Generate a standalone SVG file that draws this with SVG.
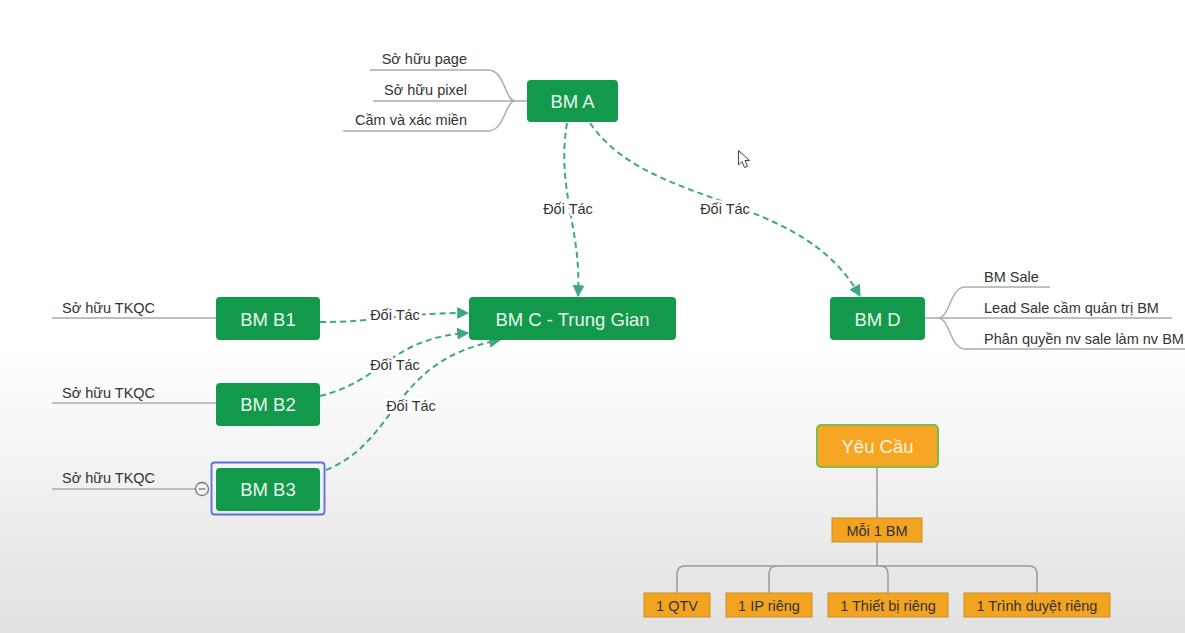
<svg xmlns="http://www.w3.org/2000/svg" width="1185" height="633" viewBox="0 0 1185 633">
<defs>
<linearGradient id="bg" x1="0" y1="0" x2="0" y2="1">
<stop offset="0" stop-color="#ffffff"/>
<stop offset="0.55" stop-color="#ffffff"/>
<stop offset="1" stop-color="#e1e1e1"/>
</linearGradient>
<marker id="arr" viewBox="0 0 10 10" refX="9" refY="5" markerWidth="6" markerHeight="6" orient="auto" markerUnits="strokeWidth">
<path d="M0,0 L10,5 L0,10 Z" fill="#3fa882"/>
</marker>
<style>
.g rect{fill:#12994c;}
.gt{font-family:"Liberation Sans",Arial,sans-serif;font-size:18.5px;fill:#e8f6ec;text-anchor:middle;}
.st{font-family:"Liberation Sans",Arial,sans-serif;font-size:14.5px;fill:#333333;}
.br{fill:none;stroke:#aaaaaa;stroke-width:1.5;}
.dash{fill:none;stroke:#3fa882;stroke-width:2;stroke-dasharray:6 4;marker-end:url(#arr);}
.lbl{font-family:"Liberation Sans",Arial,sans-serif;font-size:14.5px;fill:#333333;text-anchor:middle;paint-order:stroke;stroke:#ffffff;stroke-width:5px;stroke-linejoin:round;}
.ob{fill:#f2a31f;stroke:#c98f2c;stroke-width:1;}
.ot{font-family:"Liberation Sans",Arial,sans-serif;font-size:14.5px;fill:#333333;text-anchor:middle;}
.tree{fill:none;stroke:#9a9a9a;stroke-width:1.5;}
</style>
</defs>
<rect x="0" y="0" width="1185" height="633" fill="url(#bg)"/>

<g id="connectors">
<path class="dash" d="M567,123 C556,190 582,230 578,296"/>
<path class="dash" d="M590,123 C650,210 800,190 860,296"/>
<path class="dash" d="M320,322 C380,322 400,313 468,313"/>
<path class="dash" d="M320,396 C385,380 390,338 468,333"/>
<path class="dash" d="M326,470 C400,440 390,360 500,340"/>
<text class="lbl" x="568" y="214">Đối Tác</text>
<text class="lbl" x="725" y="214">Đối Tác</text>
<text class="lbl" x="395" y="320">Đối Tác</text>
<text class="lbl" x="395" y="370">Đối Tác</text>
<text class="lbl" x="411" y="411">Đối Tác</text>
</g>

<g id="bmA" class="g">
<path class="br" d="M527,101 H515 C505,101 505,70 488,70 H370"/>
<path class="br" d="M515,101 H373"/>
<path class="br" d="M515,101 C505,101 505,131 488,131 H343"/>
<text class="st" x="467" y="64" text-anchor="end">Sở hữu page</text>
<text class="st" x="467" y="95" text-anchor="end">Sở hữu pixel</text>
<text class="st" x="467" y="125" text-anchor="end">Cầm và xác miền</text>
<rect x="527" y="80" width="91" height="42" rx="4"/>
<text class="gt" x="572.5" y="107.5">BM A</text>
</g>

<g id="bmC" class="g">
<rect x="469" y="297" width="207" height="43" rx="4"/>
<text class="gt" x="572.5" y="326">BM C - Trung Gian</text>
</g>

<g id="bmD" class="g">
<path class="br" d="M925,318 H938 C950,318 950,287 965,287 H1050"/>
<path class="br" d="M938,318 H1172"/>
<path class="br" d="M938,318 C950,318 950,349 965,349 H1185"/>
<text class="st" x="984" y="282">BM Sale</text>
<text class="st" x="984" y="313">Lead Sale cầm quản trị BM</text>
<text class="st" x="984" y="344">Phân quyền nv sale làm nv BM</text>
<rect x="830" y="297" width="95" height="43" rx="4"/>
<text class="gt" x="877.5" y="326">BM D</text>
</g>

<g id="bmB1" class="g">
<path class="br" d="M52,318 H216"/>
<text class="st" x="62" y="313">Sở hữu TKQC</text>
<rect x="216" y="297" width="104" height="43" rx="4"/>
<text class="gt" x="268" y="326">BM B1</text>
</g>

<g id="bmB2" class="g">
<path class="br" d="M52,403 H216"/>
<text class="st" x="62" y="398">Sở hữu TKQC</text>
<rect x="216" y="383" width="104" height="43" rx="4"/>
<text class="gt" x="268" y="411">BM B2</text>
</g>

<g id="bmB3" class="g">
<path class="br" d="M52,489 H195"/>
<text class="st" x="62" y="483">Sở hữu TKQC</text>
<circle cx="202" cy="489" r="6.5" fill="#f4f4f4" stroke="#777" stroke-width="1.3"/>
<path d="M198.5,489 H205.5" stroke="#777" stroke-width="1.3"/>
<rect x="211.5" y="462.5" width="113" height="52" rx="3" style="fill:none;stroke:#5b6fe0;stroke-width:1.8"/>
<rect x="216" y="468" width="104" height="43" rx="4"/>
<text class="gt" x="268" y="496">BM B3</text>
</g>

<g id="tree">
<path class="tree" d="M877,467 V518"/>
<path class="tree" d="M877,542 V566"/>
<path class="tree" d="M677,593 V574 Q677,566 685,566 H1029 Q1037,566 1037,574 V593"/>
<path class="tree" d="M769,593 V574 Q769,566 777,566"/>
<path class="tree" d="M880,566 Q888,566 888,574 V593"/>
</g>

<g id="yeuCau">
<rect x="817" y="425" width="121" height="42" rx="4" fill="#f6a623" stroke="#7fba4a" stroke-width="2"/>
<text class="gt" x="877.5" y="453" style="fill:#fff6e6">Yêu Cầu</text>
</g>
<g id="moi1BM">
<rect class="ob" x="832" y="518" width="90" height="24"/>
<text class="ot" x="877" y="536">Mỗi 1 BM</text>
</g>
<g id="qtv">
<rect class="ob" x="644" y="593" width="66" height="24"/>
<text class="ot" x="677" y="611">1 QTV</text>
</g>
<g id="ip">
<rect class="ob" x="726" y="593" width="86" height="24"/>
<text class="ot" x="769" y="611">1 IP riêng</text>
</g>
<g id="thietbi">
<rect class="ob" x="828" y="593" width="120" height="24"/>
<text class="ot" x="888" y="611">1 Thiết bị riêng</text>
</g>
<g id="trinhduyet">
<rect class="ob" x="964" y="593" width="146" height="24"/>
<text class="ot" x="1037" y="611">1 Trình duyệt riêng</text>
</g>

<path d="M738.5,150.5 L738.5,165 L742,161.5 L744.5,167.5 L747.5,166.3 L745,160.5 L749.5,160.5 Z" fill="#ffffff" stroke="#444" stroke-width="1"/>
</svg>
